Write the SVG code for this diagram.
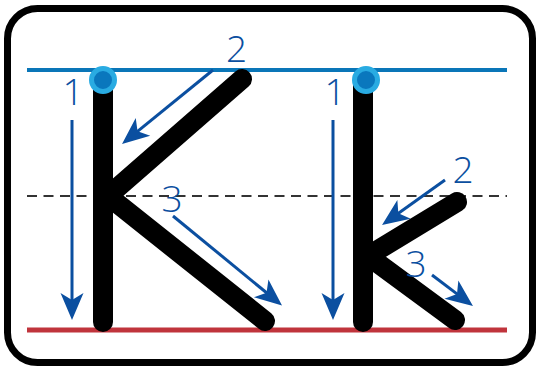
<svg xmlns="http://www.w3.org/2000/svg" width="537" height="369" viewBox="0 0 537 369">
<style>
.stroke{fill:none;stroke:#000;stroke-width:20;stroke-linecap:round;stroke-linejoin:round}
.arr{fill:none;stroke:#0b4fa0;stroke-width:3;marker-end:url(#ah)}
.num{font-family:"Open Sans","Liberation Sans",sans-serif;font-weight:300;font-size:37px;fill:#0b4fa0;text-anchor:middle}
.dot{fill:#0a77bd;stroke:#29abe2;stroke-width:5}
</style>
<defs>
<marker id="ah" markerUnits="userSpaceOnUse" orient="auto" refX="0" refY="0" markerWidth="40" markerHeight="40" overflow="visible">
<path d="M18,0 L-9,-11.5 L-2,0 L-9,11.5 Z" fill="#0b4fa0"/>
</marker>
</defs>
<rect x="7.5" y="8.5" width="525" height="354" rx="30" fill="#fff" stroke="#000" stroke-width="7"/>
<g id="guides">
<line x1="27" y1="70" x2="507" y2="70" stroke="#0a76b8" stroke-width="4"/>
<line x1="27" y1="196" x2="507" y2="196" stroke="#333" stroke-width="2" stroke-dasharray="10,6.5"/>
<line x1="27" y1="330" x2="507" y2="330" stroke="#c0343c" stroke-width="5"/>
</g>
<g id="letter-K">
<path class="stroke" d="M103,80 L103,322"/>
<path class="stroke" d="M242,79 L108,196 L265,321"/>
<circle class="dot" cx="103" cy="80" r="11.5"/>
</g>
<g id="letter-k">
<path class="stroke" d="M363,80 L363,322"/>
<path class="stroke" d="M457,202 L368,256 L455,320"/>
<circle class="dot" cx="366" cy="80" r="11.5"/>
</g>
<g id="connectors">
<line class="arr" x1="72" y1="120" x2="72" y2="302"/>
<line class="arr" x1="213" y1="70" x2="136" y2="132.6"/>
<line class="arr" x1="173" y1="216" x2="268.1" y2="294"/>
<line class="arr" x1="333" y1="120" x2="333" y2="302"/>
<line class="arr" x1="445" y1="180" x2="396.7" y2="214.5"/>
<line class="arr" x1="432" y1="275" x2="458.6" y2="295.1"/>
</g>
<g id="labels">
<text class="num" x="73" y="105">1</text>
<text class="num" x="236.5" y="62">2</text>
<text class="num" x="172" y="212">3</text>
<text class="num" x="335" y="105">1</text>
<text class="num" x="463" y="183">2</text>
<text class="num" x="416" y="277">3</text>
</g>
</svg>
